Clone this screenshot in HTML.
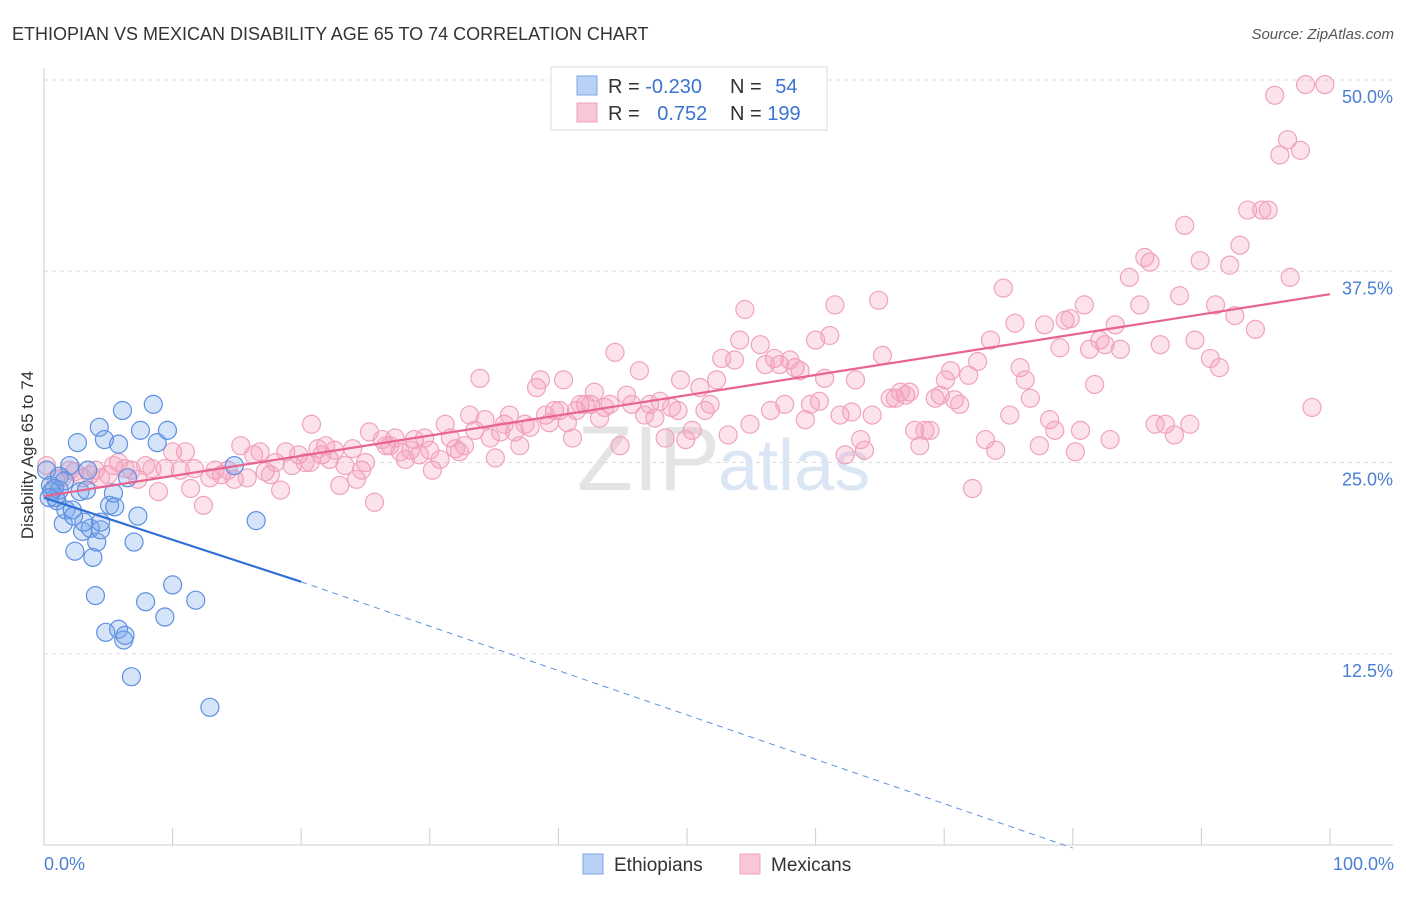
<!DOCTYPE html>
<html><head><meta charset="utf-8"><style>
body{margin:0;background:#fff;font-family:"Liberation Sans",sans-serif;}
svg text{font-family:"Liberation Sans",sans-serif;}
</style></head><body>
<svg id="chart" width="1406" height="892" xmlns="http://www.w3.org/2000/svg">
<text x="12" y="40" font-size="18" fill="#333">ETHIOPIAN VS MEXICAN DISABILITY AGE 65 TO 74 CORRELATION CHART</text>
<text x="1394" y="39" font-size="15" fill="#555" font-style="italic" text-anchor="end">Source: ZipAtlas.com</text>
<g id="grid"></g>
<text x="720" y="490" font-size="92" fill="#e4e4e4" text-anchor="end" font-family="Liberation Serif">ZIP</text>
<text x="718" y="490" font-size="72" fill="#dbe6f5">atlas</text>
<g id="marks"></g>
<text transform="translate(33,455) rotate(-90)" font-size="17" fill="#333" text-anchor="middle">Disability Age 65 to 74</text>
<text x="44" y="870" font-size="18" fill="#4a7fd4">0.0%</text>
<text x="1394" y="870" font-size="18" fill="#4a7fd4" text-anchor="end">100.0%</text>
<g>
<rect x="551" y="67" width="276" height="63" fill="#fff" stroke="#ddd"/>
<rect x="577" y="76" width="20" height="19" fill="#b9d1f5" stroke="#7aa6e6"/>
<rect x="577" y="103" width="20" height="19" fill="#f9c6d6" stroke="#eea0ba"/>
<text x="608" y="93" font-size="20" fill="#333">R = <tspan fill="#3b73d1">-0.230</tspan></text>
<text x="730" y="93" font-size="20" fill="#333">N = <tspan fill="#3b73d1" dx="8">54</tspan></text>
<text x="608" y="120" font-size="20" fill="#333">R = <tspan fill="#3b73d1" dx="12">0.752</tspan></text>
<text x="730" y="120" font-size="20" fill="#333">N = <tspan fill="#3b73d1">199</tspan></text>
</g>
<g>
<rect x="583" y="854" width="20" height="20" fill="#b9d1f5" stroke="#7aa6e6"/>
<text x="614" y="871" font-size="19" fill="#333">Ethiopians</text>
<rect x="740" y="854" width="20" height="20" fill="#f9c6d6" stroke="#eea0ba"/>
<text x="771" y="871" font-size="19" fill="#333">Mexicans</text>
</g>
</svg>
<script>
const yTicks=[12.5,25,37.5,50];
const yTickLabels=["12.5%","25.0%","37.5%","50.0%"];
const xTicks=[0,10,20,30,40,50,60,70,80,90,100];
const ethX=[0.2,0.5,0.6,0.9,1.0,1.2,1.5,1.7,2.0,2.2,2.4,2.6,2.8,3.0,3.3,3.4,3.6,3.8,4.0,4.1,4.3,4.4,4.7,4.8,5.1,5.4,5.5,5.8,5.8,6.1,6.2,6.3,6.5,6.8,7.0,7.3,7.5,7.9,8.5,8.8,9.4,9.6,10.0,11.8,12.9,14.8,16.5,1.2,1.6,0.8,0.4,3.1,4.4,2.3];
const ethY=[24.5,23.5,23.1,22.7,22.5,23.2,21.0,21.9,24.8,21.9,19.2,26.3,23.1,20.5,23.2,24.5,20.7,18.8,16.3,19.8,27.3,20.6,26.5,13.9,22.2,23.0,22.1,14.1,26.2,28.4,13.4,13.7,24.0,11.0,19.8,21.5,27.1,15.9,28.8,26.3,14.9,27.1,17.0,16.0,9.0,24.8,21.2,24.1,23.8,23.3,22.7,21.1,21.1,21.5];
const mexX=[0.2,0.9,1.4,2.0,2.4,3.0,3.6,4.0,4.4,5.0,5.4,5.8,6.3,6.8,7.3,7.9,8.4,8.9,9.4,10.0,10.6,11.0,11.4,11.7,12.4,12.9,13.3,13.8,14.3,14.8,15.3,15.8,16.3,16.8,17.2,17.6,18.0,18.4,18.8,19.3,19.8,20.3,20.7,20.8,21.3,21.6,21.9,22.2,22.6,23.0,23.4,24.0,24.3,24.7,25.0,25.3,25.7,26.3,26.6,26.9,27.3,27.7,28.1,28.5,28.8,29.2,29.6,30.0,30.2,30.8,31.2,31.6,32.0,32.3,32.7,33.1,33.5,33.9,34.3,34.7,35.1,35.5,35.8,36.2,36.6,37.0,37.4,37.8,38.3,38.6,39.0,39.3,39.7,40.1,40.4,40.7,41.1,41.4,41.7,42.1,42.5,42.8,43.2,43.6,44.0,44.4,44.8,45.3,45.7,46.3,46.7,47.1,47.5,47.9,48.3,48.8,49.3,49.5,49.9,50.4,51.0,51.4,51.8,52.3,52.7,53.2,53.7,54.1,54.5,54.9,55.7,56.1,56.5,56.8,57.2,57.6,58.0,58.4,58.8,59.2,59.6,60.0,60.3,60.7,61.1,61.5,61.9,62.3,62.8,63.1,63.5,63.8,64.4,64.9,65.2,65.8,66.2,66.6,67.0,67.3,67.7,68.1,68.5,68.9,69.3,69.7,70.1,70.5,70.8,71.2,71.9,72.2,72.6,73.2,73.6,74.0,74.6,75.1,75.5,75.9,76.3,76.7,77.4,77.8,78.2,78.6,79.0,79.4,79.8,80.2,80.6,80.9,81.3,81.7,82.1,82.5,82.9,83.3,83.7,84.4,85.2,85.6,86.0,86.4,86.8,87.2,87.9,88.3,88.7,89.1,89.5,89.9,90.7,91.1,91.4,92.2,92.6,93.0,93.6,94.2,94.7,95.2,95.7,96.1,96.7,96.9,97.7,98.1,98.6,99.6];
const mexY=[24.8,23.9,24.0,24.5,24.4,24.0,24.2,24.5,24.0,24.2,24.8,25.0,24.6,24.5,23.9,24.8,24.6,23.1,24.6,25.7,24.5,25.7,23.3,24.6,22.2,24.0,24.5,24.2,24.5,23.9,26.1,24.0,25.5,25.7,24.4,24.2,25.0,23.2,25.7,24.8,25.5,25.0,25.0,27.5,25.9,25.5,26.1,25.2,25.8,23.5,24.8,25.9,23.9,24.5,25.0,27.0,22.4,26.5,26.1,26.1,26.6,25.7,25.2,25.8,26.5,25.5,26.6,25.8,24.5,25.2,27.5,26.6,25.9,25.7,26.1,28.1,27.1,30.5,27.8,26.6,25.3,27.0,27.5,28.1,27.0,26.1,27.5,27.3,29.9,30.4,28.1,27.6,28.4,28.4,30.4,27.6,26.6,28.4,28.8,28.8,28.8,29.6,27.9,28.6,28.8,32.2,26.1,29.4,28.8,31.0,28.1,28.8,27.9,29.0,26.6,28.6,28.4,30.4,26.5,27.1,29.9,28.4,28.8,30.4,31.8,26.8,31.7,33.0,35.0,27.5,32.7,31.4,28.4,31.8,31.4,28.8,31.7,31.2,31.0,27.8,28.8,33.0,29.0,30.5,33.3,35.3,28.1,25.5,28.3,30.4,26.5,25.8,28.1,35.6,32.0,29.2,29.2,29.6,29.4,29.6,27.1,26.1,27.1,27.1,29.2,29.4,30.4,31.0,29.1,28.8,30.7,23.3,31.6,26.5,33.0,25.8,36.4,28.1,34.1,31.2,30.4,29.2,26.1,34.0,27.8,27.1,32.5,34.3,34.4,25.7,27.1,35.3,32.4,30.1,33.0,32.7,26.5,34.0,32.4,37.1,35.3,38.4,38.1,27.5,32.7,27.5,26.8,35.9,40.5,27.5,33.0,38.2,31.8,35.3,31.2,37.9,34.6,39.2,41.5,33.7,41.5,41.5,49.0,45.1,46.1,37.1,45.4,49.7,28.6,49.7];
const ethLine=[[0,22.7],[20,17.2],[80,-0.2]];
const mexLine=[[0,22.8],[100,36.0]];
const X=v=>44+v*12.86, Y=v=>845-v*15.3;
const NS="http://www.w3.org/2000/svg";
function mk(tag,attrs,parent){const e=document.createElementNS(NS,tag);for(const k in attrs)e.setAttribute(k,attrs[k]);parent.appendChild(e);return e;}
const grid=document.getElementById('grid'), marks=document.getElementById('marks');
yTicks.forEach((t,i)=>{
  const l=mk('line',{x1:44,x2:1393,y1:Y(t),y2:Y(t),stroke:'#ddd','stroke-dasharray':'4,4'},grid);
  
  
  const tx=mk('text',{x:1393,y:Y(t)+23,'font-size':18,fill:'#4a7fd4','text-anchor':'end'},grid);
  tx.textContent=yTickLabels[i];
  
  
});
const ax=mk('line',{x1:44,x2:44,y1:68,y2:845,stroke:'#ccc'},grid);


const bx=mk('line',{x1:44,x2:1393,y1:845,y2:845,stroke:'#ccc'},grid);


xTicks.forEach(t=>{
  const l=mk('line',{x1:X(t),x2:X(t),y1:828,y2:845,stroke:'#ccc'},grid);
  
  
});
mexX.forEach((v,i)=>{
  const c=mk('circle',{cx:X(v),cy:Y(mexY[i]),r:9,fill:'rgba(244,160,188,0.3)',stroke:'#f0a3bd','stroke-width':1.2},marks);
  
  
});
ethX.forEach((v,i)=>{
  const c=mk('circle',{cx:X(v),cy:Y(ethY[i]),r:9,fill:'rgba(120,165,235,0.3)',stroke:'#5d90e0','stroke-width':1.2},marks);
  
  
});
const el1=mk('line',{x1:X(ethLine[0][0]),y1:Y(ethLine[0][1]),x2:X(ethLine[1][0]),y2:Y(ethLine[1][1]),stroke:'#2f6fd6','stroke-width':2.2},marks);


const el2=mk('line',{x1:X(ethLine[1][0]),y1:Y(ethLine[1][1]),x2:X(ethLine[2][0]),y2:Y(ethLine[2][1]),stroke:'#5d90e0','stroke-width':1,'stroke-dasharray':'6,5'},marks);


const ml=mk('line',{x1:X(mexLine[0][0]),y1:Y(mexLine[0][1]),x2:X(mexLine[1][0]),y2:Y(mexLine[1][1]),stroke:'#e8638f','stroke-width':2.2},marks);


</script>
</body></html>
